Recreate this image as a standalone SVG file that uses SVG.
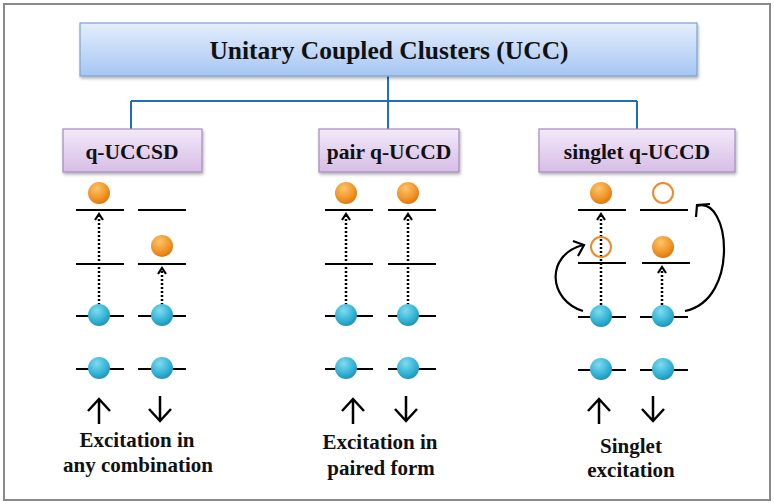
<svg xmlns="http://www.w3.org/2000/svg" width="774" height="504" viewBox="0 0 774 504">
<defs>
<linearGradient id="gTop" x1="0" y1="0" x2="0" y2="1"><stop offset="0" stop-color="#e4eefc"/><stop offset="1" stop-color="#a6c6f3"/></linearGradient>
<linearGradient id="gSub" x1="0" y1="0" x2="0" y2="1"><stop offset="0" stop-color="#f3e9f9"/><stop offset="1" stop-color="#d6bde6"/></linearGradient>
<radialGradient id="gOr" cx="0.4" cy="0.3" r="0.75"><stop offset="0" stop-color="#fbc56a"/><stop offset="0.6" stop-color="#f1962a"/><stop offset="1" stop-color="#d9730a"/></radialGradient>
<radialGradient id="gBl" cx="0.4" cy="0.3" r="0.75"><stop offset="0" stop-color="#7fdcef"/><stop offset="0.6" stop-color="#36b4d6"/><stop offset="1" stop-color="#1b8fb3"/></radialGradient>
<filter id="sh" x="-5%" y="-10%" width="110%" height="130%"><feDropShadow dx="1" dy="2" stdDeviation="1.5" flood-color="#000" flood-opacity="0.3"/></filter>
</defs>
<style>
.t{font-weight:bold;fill:#111;text-anchor:middle}
.lvl{stroke:#000;stroke-width:2}
.dot{stroke:#000;stroke-width:2.5;stroke-dasharray:2 2;fill:none}
.head{stroke:#000;stroke-width:2.2;fill:none}
.conn{stroke:#1f6fc0;stroke-width:2;fill:none}
.spin{stroke:#000;stroke-width:2.5;fill:none}
.or{fill:url(#gOr)}
.bl{fill:url(#gBl)}
.hole{fill:none;stroke:#ef8a2a;stroke-width:2}
.curve{stroke:#000;stroke-width:2.2;fill:none}
</style>
<rect x="0" y="0" width="774" height="504" fill="#fff"/>
<rect x="4" y="4" width="766" height="496" fill="none" stroke="#8a8a8a" stroke-width="2"/>

<g id="connectors">
<path class="conn" d="M388,76 V101 M131,101 H637 M131,101 V129 M388,101 V129 M637,101 V129"/>
</g>

<g font-family="'Liberation Serif','Times New Roman','DejaVu Serif',serif">
<g id="ucc">
<rect x="80" y="23" width="617" height="53" fill="url(#gTop)" stroke="#7aa2d4" stroke-width="1.2" filter="url(#sh)"/>
<text class="t" x="389" y="59" font-size="25.5">Unitary Coupled Clusters (UCC)</text>
</g>

<g id="q-uccsd">
<rect x="63" y="129" width="139" height="43" fill="url(#gSub)" stroke="#a68ac0" stroke-width="1.2" filter="url(#sh)"/>
<text class="t" x="132" y="159" font-size="21.5">q-UCCSD</text>
</g>
<g id="pair-q-uccd">
<rect x="319" y="129" width="140" height="43" fill="url(#gSub)" stroke="#a68ac0" stroke-width="1.2" filter="url(#sh)"/>
<text class="t" x="389" y="159" font-size="21.5">pair q-UCCD</text>
</g>
<g id="singlet-q-uccd">
<rect x="539" y="129" width="196" height="43" fill="url(#gSub)" stroke="#a68ac0" stroke-width="1.2" filter="url(#sh)"/>
<text class="t" x="637" y="159" font-size="21.5">singlet q-UCCD</text>
</g>

<!-- Column 1: q-UCCSD -->
<g id="levels-q-uccsd">
<path class="lvl" d="M76,210 H124 M138,210 H186 M76,264 H124 M138,264 H186 M76,316 H124 M138,316 H186 M76,369 H124 M138,369 H186"/>
<path class="dot" d="M99,305 V216"/>
<path class="head" d="M95,220 L99,214 L103,220"/>
<path class="dot" d="M162,305 V270"/>
<path class="head" d="M158,274 L162,268 L166,274"/>
<circle class="or" cx="99" cy="193" r="11"/>
<circle class="or" cx="162" cy="246" r="11"/>
<circle class="bl" cx="99" cy="315" r="11"/>
<circle class="bl" cx="162" cy="315" r="11"/>
<circle class="bl" cx="99" cy="368" r="11"/>
<circle class="bl" cx="162" cy="368" r="11"/>
<path class="spin" d="M99,424 V399 M88,411 L99,399 L110,411"/>
<path class="spin" d="M160,396 V421 M149,409 L160,421 L171,409"/>
<text class="t" x="137" y="447" font-size="21">Excitation in</text>
<text class="t" x="138" y="472" font-size="21">any combination</text>
</g>

<!-- Column 2: pair q-UCCD -->
<g id="levels-pair">
<path class="lvl" d="M325,210 H373 M388,210 H436 M325,264 H373 M388,264 H436 M325,316 H373 M388,316 H436 M325,369 H373 M388,369 H436"/>
<path class="dot" d="M346,305 V216"/>
<path class="head" d="M342,220 L346,214 L350,220"/>
<path class="dot" d="M408,305 V216"/>
<path class="head" d="M404,220 L408,214 L412,220"/>
<circle class="or" cx="346" cy="193" r="11"/>
<circle class="or" cx="408" cy="193" r="11"/>
<circle class="bl" cx="346" cy="315" r="11"/>
<circle class="bl" cx="408" cy="315" r="11"/>
<circle class="bl" cx="346" cy="368" r="11"/>
<circle class="bl" cx="408" cy="368" r="11"/>
<path class="spin" d="M353,424 V399 M342,411 L353,399 L364,411"/>
<path class="spin" d="M406,396 V421 M395,409 L406,421 L417,409"/>
<text class="t" x="380" y="449" font-size="21">Excitation in</text>
<text class="t" x="381" y="475" font-size="21">paired form</text>
</g>

<!-- Column 3: singlet q-UCCD -->
<g id="levels-singlet">
<path class="lvl" d="M578,210 H626 M640,210 H688 M578,263 H626 M642,263 H690 M578,317 H626 M640,317 H688 M578,370 H626 M640,370 H688"/>
<path class="dot" d="M601,305 V216"/>
<path class="head" d="M597,220 L601,214 L605,220"/>
<path class="dot" d="M662,305 V269"/>
<path class="head" d="M658,273 L662,267 L666,273"/>
<circle class="or" cx="601" cy="193" r="11"/>
<circle class="hole" cx="663" cy="193" r="10"/>
<circle class="hole" cx="601" cy="247" r="10"/>
<circle class="or" cx="663" cy="247" r="11"/>
<circle class="bl" cx="601" cy="316" r="11"/>
<circle class="bl" cx="663" cy="316" r="11"/>
<circle class="bl" cx="601" cy="369" r="11"/>
<circle class="bl" cx="663" cy="369" r="11"/>
<path class="curve" d="M583,311 C548,300 545,255 583,245"/>
<path class="curve" d="M573,241 L584,245 L578,256"/>
<path class="curve" d="M685,311 C740,300 730,195 697,206"/>
<path class="curve" d="M696,217 L697,205 L710,204"/>
<path class="spin" d="M599,424 V399 M588,411 L599,399 L610,411"/>
<path class="spin" d="M653,396 V421 M642,409 L653,421 L664,409"/>
<text class="t" x="631" y="453" font-size="21">Singlet</text>
<text class="t" x="631" y="477" font-size="21">excitation</text>
</g>
</g>
</svg>
